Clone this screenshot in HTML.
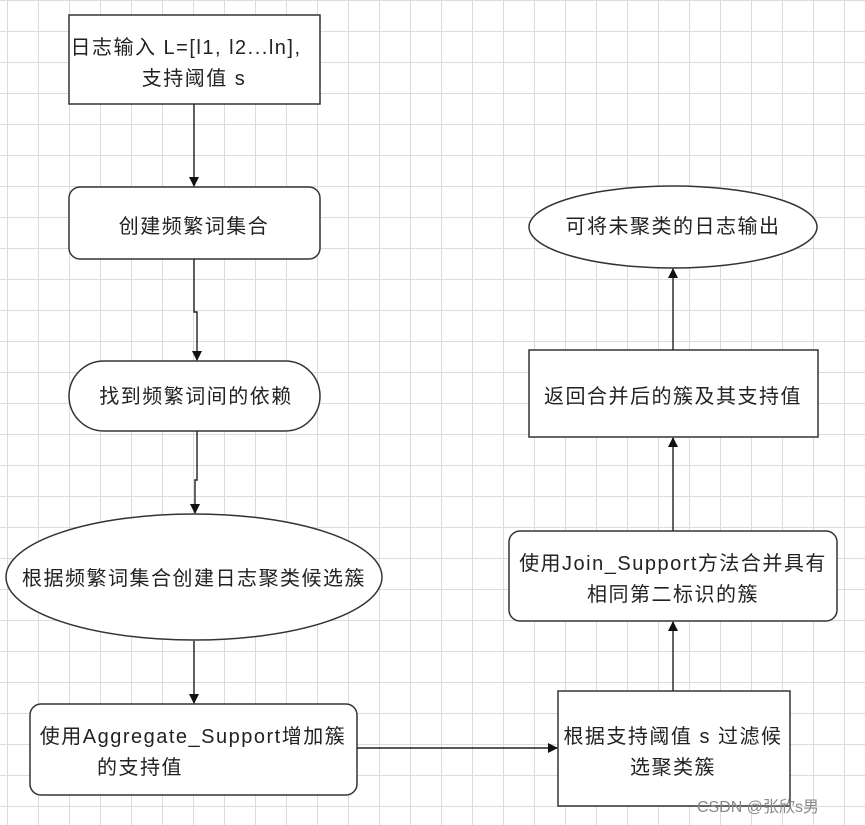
<!DOCTYPE html><html><head><meta charset="utf-8"><style>
body{margin:0;width:865px;height:825px;overflow:hidden;background:#fff;
background-image:linear-gradient(#dcdcdc 1px,transparent 1px),linear-gradient(90deg,#dcdcdc 1px,transparent 1px);
background-size:31px 31px;background-position:7px 0px;font-family:"Liberation Sans","Noto Sans CJK SC",sans-serif;}
svg{position:absolute;left:0;top:0}
text{font-size:20px;letter-spacing:1.5px;fill:#222;text-anchor:middle;font-family:"Liberation Sans","Noto Sans CJK SC",sans-serif}
</style></head><body>
<svg width="865" height="825">
<defs><marker id="a" markerWidth="10" markerHeight="10" refX="9" refY="5" orient="auto" markerUnits="userSpaceOnUse"><path d="M0,0 L10,5 L0,10z" fill="#111"/></marker></defs>
<g fill="#fff" stroke="#333" stroke-width="1.5">
<rect x="69" y="15" width="251" height="89"/>
<rect x="69" y="187" width="251" height="72" rx="11"/>
<rect x="69" y="361" width="251" height="70" rx="35"/>
<ellipse cx="194" cy="577" rx="188" ry="63"/>
<rect x="30" y="704" width="327" height="91" rx="11"/>
<rect x="558" y="691" width="232" height="115"/>
<rect x="509" y="531" width="328" height="90" rx="11"/>
<rect x="529" y="350" width="289" height="87"/>
<ellipse cx="673" cy="227" rx="144" ry="41"/>
</g>
<g stroke="#222" stroke-width="1.4" fill="none" marker-end="url(#a)">
<path d="M194 104V186"/>
<path d="M194 259V312H197V360"/>
<path d="M197 431V480H195V513"/>
<path d="M194 641V703"/>
<path d="M357 748H557"/>
<path d="M673 691V622"/>
<path d="M673 531V438"/>
<path d="M673 350V269"/>
</g>
<text x="186" y="54">日志输入 L=[l1, l2...ln],</text>
<text x="194" y="85">支持阈值 s</text>
<text x="194" y="233">创建频繁词集合</text>
<text x="196" y="403">找到频繁词间的依赖</text>
<text x="194" y="585">根据频繁词集合创建日志聚类候选簇</text>
<text x="193" y="743">使用Aggregate_Support增加簇</text>
<text x="140" y="774">的支持值</text>
<text x="673" y="743">根据支持阈值 s 过滤候</text>
<text x="673" y="774">选聚类簇</text>
<text x="673" y="570">使用Join_Support方法合并具有</text>
<text x="673" y="601">相同第二标识的簇</text>
<text x="673" y="403">返回合并后的簇及其支持值</text>
<text x="673" y="233">可将未聚类的日志输出</text>
<text x="758" y="812" style="font-size:16px;letter-spacing:0;fill:#888">CSDN @张欣s男</text>
</svg></body></html>
